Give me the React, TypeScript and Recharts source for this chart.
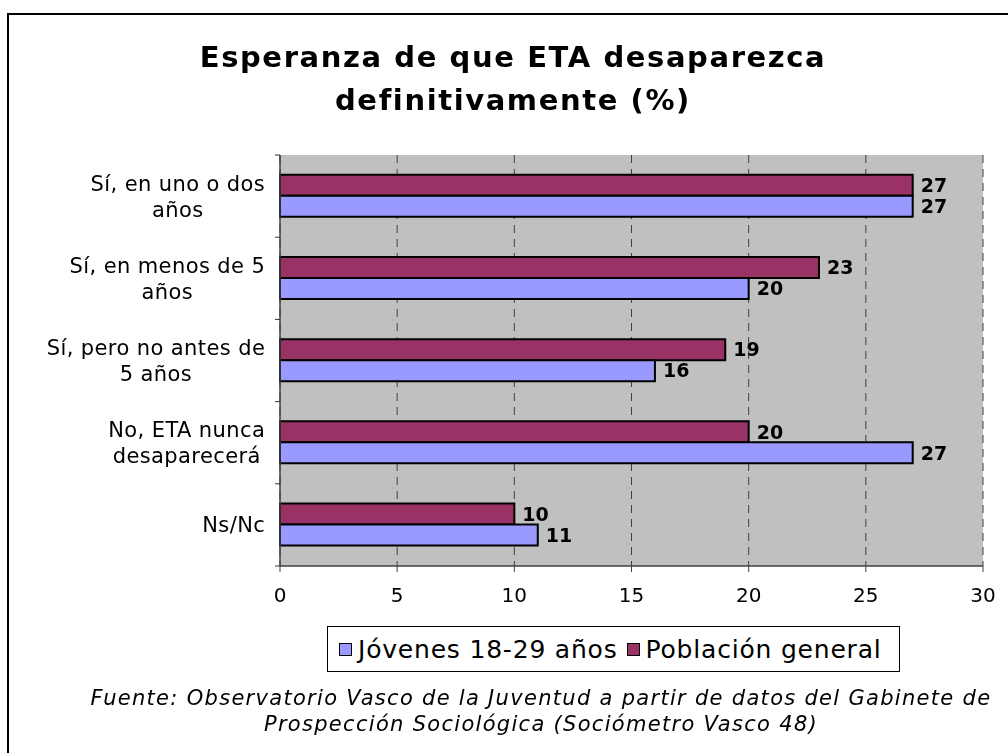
import React from "react";
import {
  BarChart,
  Bar,
  XAxis,
  YAxis,
  CartesianGrid,
  LabelList,
  Legend,
} from "recharts";

const categories = [
  "Sí, en uno o dos años",
  "Sí, en menos de 5 años",
  "Sí, pero no antes de 5 años",
  "No, ETA nunca desaparecerá",
  "Ns/Nc",
];
const categoryLines: string[][] = [
  ["Sí, en uno o dos", "años"],
  ["Sí, en menos de 5", "años"],
  ["Sí, pero no antes de", "5 años"],
  ["No, ETA nunca", "desaparecerá"],
  ["Ns/Nc"],
];
const jovenes = [27, 20, 16, 27, 11];
const poblacion = [27, 23, 19, 20, 10];
const xTicks = [0, 5, 10, 15, 20, 25, 30];

const SERIES_J = "Jóvenes 18-29 años";
const SERIES_P = "Población general";

const data = categories.map((c, i) => ({
  name: c,
  jovenes: jovenes[i],
  poblacion: poblacion[i],
}));

const FONT = "'DejaVu Sans', Verdana, sans-serif";
const W = 1000;
const H = 745;
const M = { top: 147, right: 25, left: 0, bottom: 157 };
const YW = 272;
const XH = 30;
const PLOT_H = H - M.top - M.bottom - XH;
const HALF_BAND = PLOT_H / categories.length / 2;

const Y_FS = 21;
const Y_LS = 0.4;

let canvasCtx: CanvasRenderingContext2D | null = null;
function measure(text: string, font: string, ls: number): number {
  if (!canvasCtx) {
    const c = document.createElement("canvas");
    canvasCtx = c.getContext("2d");
  }
  if (!canvasCtx) return text.length * 11;
  canvasCtx.font = font;
  return canvasCtx.measureText(text).width + ls * Math.max(0, text.length - 1);
}

const YTick = (props: any) => {
  const { y, payload, index } = props;
  const idx = categories.indexOf(payload.value);
  const lines = categoryLines[idx >= 0 ? idx : 0];
  const widths = lines.map((l) => measure(l, `${Y_FS}px DejaVu Sans`, Y_LS));
  const maxW = Math.max(...widths);
  const right = YW - 15;
  const cx = right - maxW / 2;
  const lh = 26;
  const startY = y - ((lines.length - 1) * lh) / 2;
  const axisX = YW;
  return (
    <g>
      <line x1={axisX - 5} x2={axisX} y1={y - HALF_BAND} y2={y - HALF_BAND} stroke="#333" strokeWidth={1} />
      {index === categories.length - 1 && (
        <line x1={axisX - 5} x2={axisX} y1={y + HALF_BAND} y2={y + HALF_BAND} stroke="#333" strokeWidth={1} />
      )}
      <text
        textAnchor="middle"
        fontFamily={FONT}
        fontSize={Y_FS}
        letterSpacing={Y_LS}
        fill="#000"
      >
        {lines.map((l, i) => (
          <tspan key={i} x={cx} y={startY + i * lh} dy="0.36em">
            {l}
          </tspan>
        ))}
      </text>
    </g>
  );
};

const LegendContent = (props: any) => {
  const payload = [...(props.payload || [])].sort((a: any, b: any) =>
    a.value === SERIES_J ? -1 : b.value === SERIES_J ? 1 : 0
  );
  return (
    <div
      style={{
        display: "inline-flex",
        alignItems: "center",
        border: "1px solid #000",
        background: "#fff",
        boxSizing: "border-box",
        padding: "0 0 0 11px",
        width: 573,
        height: 46,
        fontFamily: FONT,
        fontSize: 25,
        letterSpacing: 0.8,
        color: "#000",
        whiteSpace: "nowrap",
      }}
    >
      {payload.map((p: any, i: number) => (
        <span key={i} style={{ display: "inline-flex", alignItems: "center", marginRight: i === 0 ? 9 : 0 }}>
          <span
            style={{
              display: "inline-block",
              width: 11,
              height: 11,
              background: p.color,
              border: "1.5px solid #000",
              marginRight: 6,
            }}
          />
          {p.value}
        </span>
      ))}
    </div>
  );
};

export default function App() {
  return (
    <div style={{ position: "relative", width: W, height: H, background: "#fff" }}>
      <div
        style={{
          position: "fixed",
          left: 7,
          top: 13,
          width: 1100,
          height: 900,
          border: "2px solid #000",
          boxSizing: "border-box",
          pointerEvents: "none",
        }}
      />
      <div
        style={{
          position: "absolute",
          left: 0,
          top: 28,
          width: 1010,
          textAlign: "center",
          fontFamily: FONT,
          fontWeight: "bold",
          fontSize: 29,
          letterSpacing: 1.6,
          lineHeight: "43px",
          color: "#000",
        }}
      >
        Esperanza de que ETA desaparezca
        <br />
        definitivamente (%)
      </div>
      <div style={{ position: "absolute", left: 0, top: 0 }}>
        <BarChart
          width={W}
          height={H}
          data={data}
          layout="vertical"
          margin={M}
          barCategoryGap="24%"
          barGap={0}
        >
          <CartesianGrid
            horizontal={false}
            vertical={true}
            fill="#C0C0C0"
            fillOpacity={1}
            stroke="#404040"
            strokeDasharray="8 6"
          />
          <XAxis
            type="number"
            domain={[0, 30]}
            ticks={xTicks}
            interval={0}
            height={XH}
            axisLine={{ stroke: "#404040", strokeWidth: 1.5 }}
            tickLine={{ stroke: "#404040" }}
            tickSize={6}
            tickMargin={16}
            tick={{ fill: "#000", fontSize: 20, fontFamily: FONT }}
          />
          <XAxis
            xAxisId="top"
            orientation="top"
            type="number"
            domain={[0, 30]}
            height={0}
            tick={false}
            tickLine={false}
            axisLine={{ stroke: "#808080", strokeWidth: 1.5 }}
          />
          <YAxis
            type="category"
            dataKey="name"
            width={YW}
            interval={0}
            axisLine={{ stroke: "#404040", strokeWidth: 1.5 }}
            tickLine={false}
            tick={<YTick />}
          />
          <YAxis
            yAxisId="right"
            orientation="right"
            type="category"
            dataKey="name"
            width={0}
            tick={false}
            tickLine={false}
            axisLine={{ stroke: "#808080", strokeWidth: 1.5 }}
          />
          <Legend
            verticalAlign="middle"
            align="center"
            content={<LegendContent />}
            wrapperStyle={{ position: "absolute", left: 319, top: 618, width: "auto", height: "auto", bottom: "auto", right: "auto" }}
          />
          <Bar
            dataKey="poblacion"
            name={SERIES_P}
            fill="#993366"
            stroke="#000"
            strokeWidth={2}
            isAnimationActive={false}
          >
            <LabelList
              dataKey="poblacion"
              position="right"
              offset={8}
              fill="#000"
              fontSize={19}
              fontWeight="bold"
              fontFamily={FONT}
            />
          </Bar>
          <Bar
            dataKey="jovenes"
            name={SERIES_J}
            fill="#9999FF"
            stroke="#000"
            strokeWidth={2}
            isAnimationActive={false}
          >
            <LabelList
              dataKey="jovenes"
              position="right"
              offset={8}
              fill="#000"
              fontSize={19}
              fontWeight="bold"
              fontFamily={FONT}
            />
          </Bar>
        </BarChart>
      </div>
      <div
        style={{
          position: "absolute",
          left: 0,
          top: 677,
          width: 1066,
          textAlign: "center",
          fontFamily: FONT,
          fontStyle: "italic",
          fontSize: 21,
          letterSpacing: 1.3,
          lineHeight: "26px",
          color: "#000",
          whiteSpace: "nowrap",
        }}
      >
        Fuente: Observatorio Vasco de la Juventud a partir de datos del Gabinete de
        <br />
        Prospección Sociológica (Sociómetro Vasco 48)
      </div>
    </div>
  );
}
